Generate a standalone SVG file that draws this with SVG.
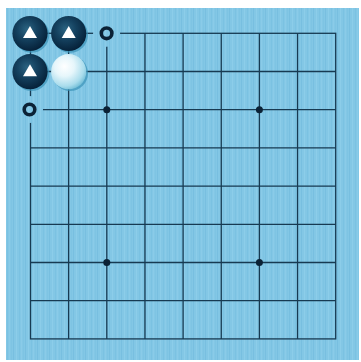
<svg xmlns="http://www.w3.org/2000/svg" width="361" height="362" viewBox="0 0 361 362">
  <defs>
    <pattern id="wood" patternUnits="userSpaceOnUse" x="0" y="0" width="12" height="362">
      <rect width="12" height="362" fill="#83c7e5"/>
      <rect x="1" width="1" height="362" fill="#78bfe0"/>
      <rect x="4" width="1" height="362" fill="#8ccde9"/>
      <rect x="7" width="1" height="362" fill="#7bc2e2"/>
      <rect x="9" width="1" height="362" fill="#8acbe8"/>
      <rect x="11" width="1" height="362" fill="#7ec4e3"/>
    </pattern>
    <radialGradient id="blackStone" cx="0.42" cy="0.38" r="0.62">
      <stop offset="0" stop-color="#2b6482"/>
      <stop offset="0.45" stop-color="#154260"/>
      <stop offset="1" stop-color="#06223a"/>
    </radialGradient>
    <radialGradient id="whiteStone" cx="0.38" cy="0.35" r="0.7">
      <stop offset="0" stop-color="#ffffff"/>
      <stop offset="0.4" stop-color="#e6f6fb"/>
      <stop offset="0.8" stop-color="#a9dcec"/>
      <stop offset="1" stop-color="#6fbcd6"/>
    </radialGradient>
    <style>
      .grid { stroke: #173a52; stroke-width: 1.3; fill: none; }
      .star { fill: #0b2236; }
      .shadow { fill: #3a93b8; opacity: 0.7; }
      .mark { fill: #ffffff; }
      .circ { fill: none; stroke: #0b2236; stroke-width: 3.6; }
      .clear { fill: url(#wood); }
    </style>
  </defs>

  <rect x="0" y="0" width="361" height="362" fill="#ffffff"/>
  <rect id="board" x="6" y="8" width="353" height="352" fill="url(#wood)"/>

  <g id="grid" class="grid">
    <rect x="30.5" y="33.3" width="305.2" height="305.6"/>
    <path d="M68.65 33.3V338.9 M106.8 33.3V338.9 M144.95 33.3V338.9 M183.1 33.3V338.9 M221.25 33.3V338.9 M259.4 33.3V338.9 M297.55 33.3V338.9
             M30.5 71.5H335.7 M30.5 109.7H335.7 M30.5 147.9H335.7 M30.5 186.1H335.7 M30.5 224.3H335.7 M30.5 262.5H335.7 M30.5 300.7H335.7"/>
  </g>

  <g id="stars">
    <circle class="star" cx="106.8" cy="109.7" r="3.5"/>
    <circle class="star" cx="259.4" cy="109.7" r="3.5"/>
    <circle class="star" cx="106.8" cy="262.5" r="3.5"/>
    <circle class="star" cx="259.4" cy="262.5" r="3.5"/>
  </g>

  <g id="mark-circle-top">
    <circle class="clear" cx="106.6" cy="33.3" r="13.5"/>
    <circle class="circ" cx="106.6" cy="33.3" r="5.3"/>
  </g>
  <g id="mark-circle-left">
    <circle class="clear" cx="29.5" cy="109.5" r="13.5"/>
    <circle class="circ" cx="29.5" cy="109.5" r="5.3"/>
  </g>

  <g id="stone-b1">
    <circle class="shadow" cx="31.5" cy="35" r="17.8"/>
    <circle cx="30" cy="33.5" r="17.6" fill="url(#blackStone)"/>
    <polygon class="mark" points="30,26 23,38 37,38"/>
  </g>
  <g id="stone-b2">
    <circle class="shadow" cx="70.2" cy="35" r="17.8"/>
    <circle cx="68.7" cy="33.5" r="17.6" fill="url(#blackStone)"/>
    <polygon class="mark" points="68.7,26 61.7,38 75.7,38"/>
  </g>
  <g id="stone-b3">
    <circle class="shadow" cx="31.5" cy="73.2" r="17.8"/>
    <circle cx="30" cy="71.7" r="17.6" fill="url(#blackStone)"/>
    <polygon class="mark" points="30,64.2 23,76.2 37,76.2"/>
  </g>
  <g id="stone-w1">
    <circle class="shadow" cx="70.2" cy="73.2" r="17.8"/>
    <circle cx="68.7" cy="71.7" r="17.6" fill="url(#whiteStone)"/>
  </g>
</svg>
